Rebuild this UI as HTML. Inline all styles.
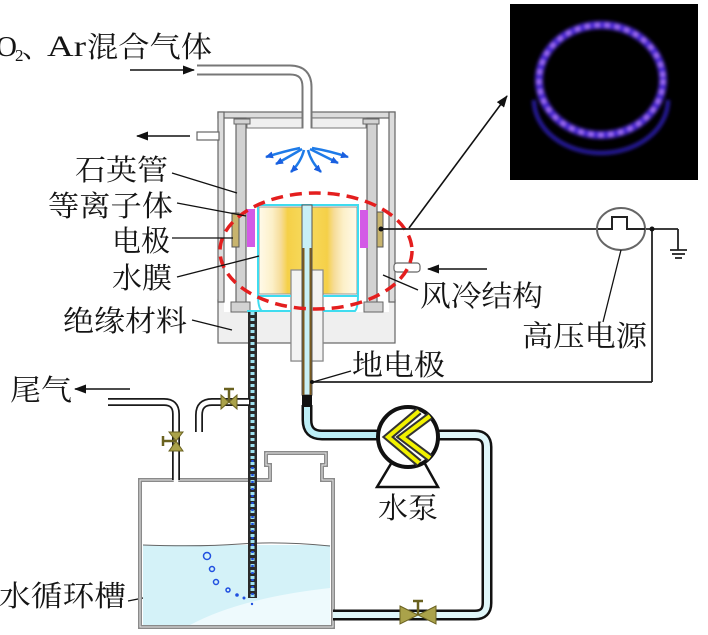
<!DOCTYPE html>
<html><head><meta charset="utf-8">
<style>
html,body{margin:0;padding:0;background:#fff;}
svg{display:block;}
text{font-family:"Liberation Serif","Noto Serif CJK SC",serif;fill:#141414;}
</style></head><body>
<svg width="708" height="635" viewBox="0 0 708 635" xmlns="http://www.w3.org/2000/svg">
<defs>
<marker id="ah" markerWidth="12" markerHeight="9" refX="11" refY="4.5" orient="auto" markerUnits="userSpaceOnUse">
<path d="M0,0 L12,4.5 L0,9 Z" fill="#111"/></marker>
<marker id="bh" markerWidth="8" markerHeight="7" refX="7" refY="3.5" orient="auto" markerUnits="userSpaceOnUse">
<path d="M0,0 L8,3.5 L0,7 Z" fill="#1a5fe0"/></marker>
<linearGradient id="yl" x1="0" x2="1" y1="0" y2="0">
<stop offset="0" stop-color="#fffaea"/><stop offset="0.3" stop-color="#fcf0c8"/>
<stop offset="0.5" stop-color="#f6dc98"/><stop offset="0.65" stop-color="#f5d048"/>
<stop offset="1" stop-color="#f7d85a"/></linearGradient>
<linearGradient id="yr" x1="1" x2="0" y1="0" y2="0">
<stop offset="0" stop-color="#fffaea"/><stop offset="0.3" stop-color="#fcf0c8"/>
<stop offset="0.5" stop-color="#f6dc98"/><stop offset="0.65" stop-color="#f5d048"/>
<stop offset="1" stop-color="#f7d85a"/></linearGradient>
<filter id="glow" x="-20%" y="-20%" width="140%" height="140%"><feGaussianBlur stdDeviation="1.8"/></filter>
</defs>

<!-- photo -->
<rect x="510" y="4" width="188" height="176" fill="#000"/>
<g filter="url(#glow)">
<path d="M534,100 A67,53 0 0 0 668,100" fill="none" stroke="#2a1aa8" stroke-width="4"/>
<ellipse cx="601" cy="80" rx="62" ry="55" fill="none" stroke="#4626d0" stroke-width="8"/>
<ellipse cx="601" cy="80" rx="62" ry="55" fill="none" stroke="#b47cff" stroke-width="4" stroke-dasharray="4 6"/>
</g>

<!-- housing base -->
<rect x="218" y="300" width="177" height="43" fill="#efefef" stroke="#666" stroke-width="1.2"/>
<rect x="291" y="270" width="32" height="91" fill="#f3f3f3" stroke="#888" stroke-width="1.2"/>
<!-- cavity -->
<rect x="224" y="118" width="165" height="194" fill="#fff"/>
<!-- top plate & walls -->
<rect x="218" y="112" width="177" height="6" fill="#dcdcdc" stroke="#666" stroke-width="1.2"/>
<rect x="218" y="112" width="6" height="190" fill="#dcdcdc" stroke="#666" stroke-width="1.2"/>
<rect x="389" y="112" width="6" height="190" fill="#dcdcdc" stroke="#666" stroke-width="1.2"/>
<rect x="247" y="118" width="119" height="10" fill="#efefef" stroke="#777" stroke-width="1"/>
<!-- stubs -->
<rect x="197" y="132" width="22" height="8" fill="#fff" stroke="#666" stroke-width="1.2"/>
<rect x="394" y="263" width="26" height="9" rx="3" fill="#fff" stroke="#666" stroke-width="1.2"/>

<!-- quartz tubes -->
<rect x="236" y="119" width="10" height="190" fill="#d2d2d2" stroke="#666" stroke-width="1.2"/>
<rect x="234" y="119" width="16" height="5" fill="#d2d2d2" stroke="#666" stroke-width="1"/>
<rect x="231" y="302" width="19" height="10" fill="#d2d2d2" stroke="#666" stroke-width="1"/>
<rect x="367" y="119" width="10" height="190" fill="#d2d2d2" stroke="#666" stroke-width="1.2"/>
<rect x="363" y="119" width="16" height="5" fill="#d2d2d2" stroke="#666" stroke-width="1"/>
<rect x="364" y="302" width="19" height="10" fill="#d2d2d2" stroke="#666" stroke-width="1"/>

<!-- gas inlet pipe -->
<path d="M197,70 H290 Q307,70 307,87 V128" fill="none" stroke="#777" stroke-width="11"/>
<path d="M197,70 H290 Q307,70 307,87 V129" fill="none" stroke="#fff" stroke-width="7"/>

<!-- spray arrows -->
<g fill="none" stroke="#1e7be8" stroke-width="2.5" marker-end="url(#bh)">
<path d="M300,148 Q285,151 266,157"/>
<path d="M302,149 Q292,155 276,164"/>
<path d="M304,150 Q301,162 291,172"/>
<path d="M308,150 Q311,162 321,172"/>
<path d="M310,149 Q322,155 338,163"/>
<path d="M312,148 Q330,151 348,157"/>
</g>

<!-- yellow block -->
<rect x="259" y="207" width="44" height="87" fill="url(#yl)" stroke="#999" stroke-width="1"/>
<rect x="311" y="207" width="46" height="87" fill="url(#yr)" stroke="#999" stroke-width="1"/>
<rect x="291" y="270" width="32" height="91" fill="#f3f3f3" stroke="#888" stroke-width="1.2"/>
<!-- water film -->
<g fill="none" stroke="#3fdcef" stroke-width="2">
<path d="M258,295 V205 H358 V295"/>
<path d="M258,295 Q258,308 262,311 H291"/>
<path d="M358,295 Q358,308 355,311 H323"/>
<path d="M247,311 H262"/>
<path d="M258,296 H291 M323,296 H358"/>
</g>
<!-- central tube -->
<rect x="302" y="205" width="10" height="190" fill="#c8f0f6" stroke="#555" stroke-width="1"/>
<line x1="303.5" y1="248" x2="303.5" y2="395" stroke="#7a5a20" stroke-width="2"/>
<line x1="310.5" y1="248" x2="310.5" y2="395" stroke="#7a5a20" stroke-width="2"/>
<rect x="302" y="395" width="10" height="12" fill="#111"/>

<!-- plasma & electrodes -->
<rect x="247" y="209" width="8" height="38" fill="#d35ae6"/>
<rect x="360" y="210" width="8" height="38" fill="#d35ae6"/>
<rect x="232" y="213" width="7" height="34" fill="#c8b46e" stroke="#555" stroke-width="1"/>
<rect x="377" y="212" width="6" height="35" fill="#c8b46e" stroke="#555" stroke-width="1"/>

<!-- red dashed ellipse -->
<ellipse cx="316" cy="251" rx="96" ry="58" fill="none" stroke="#e41e1e" stroke-width="3.5" stroke-dasharray="12 7"/>

<!-- wiring -->
<g stroke="#222" stroke-width="1.8" fill="none">
<line x1="381" y1="229" x2="597" y2="229"/>
<line x1="645" y1="229" x2="678" y2="229"/>
<line x1="678" y1="229" x2="678" y2="250"/>
<line x1="670" y1="250" x2="687" y2="250"/>
<line x1="672" y1="254" x2="685" y2="254"/>
<line x1="675" y1="258" x2="682" y2="258"/>
<line x1="652" y1="229" x2="652" y2="382"/>
<line x1="652" y1="382" x2="312" y2="382"/>
</g>
<circle cx="381" cy="229" r="2.5" fill="#111"/>
<circle cx="652" cy="229" r="2.5" fill="#111"/>
<circle cx="312" cy="382" r="2" fill="#111"/>
<ellipse cx="621" cy="229" rx="24" ry="21" fill="#fff" stroke="#666" stroke-width="2"/>
<path d="M598,229 H612 V217 H627 V229 H645" fill="none" stroke="#222" stroke-width="2"/>
<line x1="409" y1="228" x2="507" y2="96" stroke="#111" stroke-width="1.6" marker-end="url(#ah)"/>

<!-- leader lines -->
<g stroke="#111" stroke-width="1.3">
<line x1="172" y1="173" x2="237" y2="193"/>
<line x1="177" y1="203" x2="246" y2="216"/>
<line x1="172" y1="238" x2="233" y2="238"/>
<line x1="177" y1="277" x2="259" y2="256"/>
<line x1="192" y1="320" x2="232" y2="330"/>
<line x1="418" y1="290" x2="383" y2="275"/>
<line x1="603" y1="322" x2="621" y2="250"/>
<line x1="351" y1="371" x2="313" y2="382"/>
<line x1="128" y1="601" x2="168" y2="593"/>
</g>

<!-- flow arrows -->
<g stroke="#111" stroke-width="1.6" marker-end="url(#ah)">
<line x1="130" y1="70" x2="194" y2="70"/>
<line x1="190" y1="136" x2="137" y2="136"/>
<line x1="487" y1="269" x2="428" y2="269"/>
<line x1="130" y1="389" x2="75" y2="389"/>
</g>

<!-- tank -->
<rect x="143" y="545" width="187" height="80" fill="#d4f2f8"/>
<path d="M190,625 Q240,598 330,588 V625 Z" fill="#eefafd"/>
<path d="M140,480 H270 V465 H266 V453 H326 V465 H322 V480 H333 V627 H140 Z" fill="none" stroke="#8a8a8a" stroke-width="4"/>
<path d="M140,480 H270 V465 H266 V453 H326 V465 H322 V480 H333 V627 H140 Z" fill="none" stroke="#e6e6e6" stroke-width="1"/>
<path d="M143,545 Q200,547 240,544 T330,546" fill="none" stroke="#666" stroke-width="1"/>
<g fill="none" stroke="#2050e0" stroke-width="1.5">
<circle cx="207" cy="556" r="3.5"/><circle cx="212" cy="569" r="2.5"/><circle cx="216" cy="582" r="2.5"/>
<circle cx="228" cy="590" r="2"/></g>
<g fill="#2050e0"><circle cx="237" cy="595" r="1.8"/><circle cx="244" cy="598" r="1.5"/><circle cx="252" cy="604" r="1.2"/></g>

<!-- pipe into tank -->
<line x1="252.5" y1="312" x2="252.5" y2="598" stroke="#2a2a2a" stroke-width="9"/>
<line x1="252.5" y1="312" x2="252.5" y2="597" stroke="#9fe2f0" stroke-width="4" stroke-dasharray="3 3"/>
<line x1="252.5" y1="460" x2="252.5" y2="597" stroke="#2050e0" stroke-width="2.5" stroke-dasharray="2 5"/>

<!-- tail gas pipes -->
<path d="M108,402 H164 Q176,402 176,414 V480" fill="none" stroke="#1a1a1a" stroke-width="8"/>
<path d="M108,402 H164 Q176,402 176,414 V482" fill="none" stroke="#fff" stroke-width="4.5"/>
<path d="M250,402 H212 Q199,402 199,415 V432" fill="none" stroke="#1a1a1a" stroke-width="8"/>
<path d="M249,402 H212 Q199,402 199,415 V433" fill="none" stroke="#fff" stroke-width="4.5"/>

<!-- valves -->
<g fill="#aaa24a" stroke="#6a6220" stroke-width="1">
<polygon points="221,395 229,402 221,409"/><polygon points="237,395 229,402 237,409"/>
<polygon points="169,432 176,441 183,432"/><polygon points="169,451 176,441 183,451"/>
</g>
<g stroke="#6a6220" stroke-width="2.5">
<line x1="229" y1="402" x2="229" y2="389"/><line x1="224" y1="389" x2="234" y2="389"/>
<line x1="176" y1="441" x2="163" y2="441"/><line x1="163" y1="436" x2="163" y2="446"/>
</g>

<!-- pump pipes -->
<path d="M307,405 V420 Q307,435 322,435 H380" fill="none" stroke="#111" stroke-width="11"/>
<path d="M307,407 V420 Q307,435 322,435 H380" fill="none" stroke="#bdeef6" stroke-width="6"/>
<path d="M436,435 H475 Q487,435 487,447 V603 Q487,615 475,615 H333" fill="none" stroke="#111" stroke-width="11"/>
<path d="M436,435 H475 Q487,435 487,447 V603 Q487,615 475,615 H333" fill="none" stroke="#e0f7fa" stroke-width="6"/>
<g fill="#aaa24a" stroke="#6a6220" stroke-width="1">
<polygon points="400,606 418,615 400,624"/><polygon points="436,606 418,615 436,624"/>
</g>
<g stroke="#6a6220" stroke-width="2.5">
<line x1="418" y1="615" x2="418" y2="601"/><line x1="413" y1="601" x2="423" y2="601"/>
</g>

<!-- pump -->
<polygon points="392,462 424,462 438,487 377,487" fill="#fff" stroke="#111" stroke-width="2.5"/>
<circle cx="408" cy="437" r="30" fill="#fff" stroke="#111" stroke-width="4"/>
<polyline points="419,411 388,437 419,463" fill="none" stroke="#333" stroke-width="8"/>
<polyline points="419,411 388,437 419,463" fill="none" stroke="#f2f200" stroke-width="4"/>
<polyline points="430,416 402,437 430,458" fill="none" stroke="#333" stroke-width="8"/>
<polyline points="430,416 402,437 430,458" fill="none" stroke="#f2f200" stroke-width="4"/>

<!-- labels -->
<text x="-4" y="56" font-size="29">O</text>
<text x="15" y="61" font-size="17">2</text>
<text x="22" y="57" font-size="28">、</text>
<text x="47" y="56" font-size="30" textLength="39" lengthAdjust="spacingAndGlyphs">Ar</text>
<text x="87" y="57" font-size="29" textLength="125" lengthAdjust="spacingAndGlyphs">混合气体</text>
<text x="75" y="180" font-size="29" textLength="93" lengthAdjust="spacingAndGlyphs">石英管</text>
<text x="48" y="216" font-size="29" textLength="125" lengthAdjust="spacingAndGlyphs">等离子体</text>
<text x="112" y="251" font-size="29" textLength="58" lengthAdjust="spacingAndGlyphs">电极</text>
<text x="112" y="288" font-size="29" textLength="60" lengthAdjust="spacingAndGlyphs">水膜</text>
<text x="63" y="331" font-size="29" textLength="124" lengthAdjust="spacingAndGlyphs">绝缘材料</text>
<text x="420" y="306" font-size="29" textLength="123" lengthAdjust="spacingAndGlyphs">风冷结构</text>
<text x="522" y="346" font-size="29" textLength="125" lengthAdjust="spacingAndGlyphs">高压电源</text>
<text x="352" y="375" font-size="29" textLength="93" lengthAdjust="spacingAndGlyphs">地电极</text>
<text x="378" y="518" font-size="29" textLength="60" lengthAdjust="spacingAndGlyphs">水泵</text>
<text x="10" y="400" font-size="29" textLength="62" lengthAdjust="spacingAndGlyphs">尾气</text>
<text x="-1" y="606" font-size="29" textLength="127" lengthAdjust="spacingAndGlyphs">水循环槽</text>
</svg>
</body></html>
